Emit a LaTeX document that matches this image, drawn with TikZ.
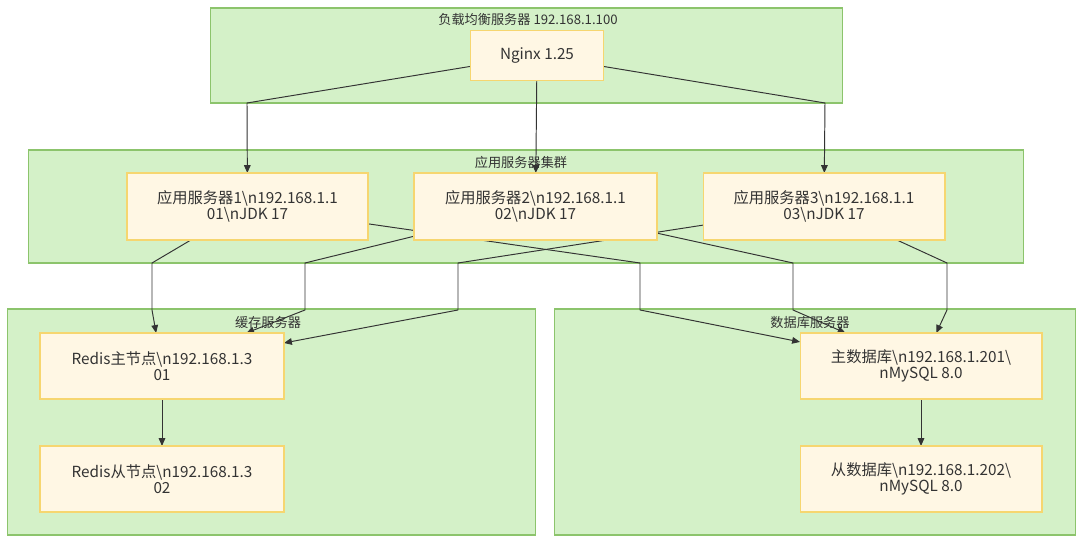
\documentclass[tikz,border=0pt]{standalone}
\usepackage{fontspec}
\setmainfont{Noto Sans CJK SC}
\usepackage{xcolor}
\usepackage{tikz}
\usetikzlibrary{arrows.meta, positioning, calc, backgrounds}

\definecolor{clusterfill}{HTML}{D4F1C8}
\definecolor{clusterline}{HTML}{8CC46C}
\definecolor{nodefill}{HTML}{FFF7E4}
\definecolor{nodeline}{HTML}{F6D670}
\definecolor{inkgray}{HTML}{333333}

\pgfdeclarelayer{edgelayer}
\pgfsetlayers{background,edgelayer,main}

\begin{document}
\begin{tikzpicture}[
  x=0.02cm, y=-0.02cm,
  text=inkgray,
  cluster/.style={
    draw=clusterline, fill=clusterfill, line width=0.6pt,
    inner sep=0pt, outer sep=0pt
  },
  clabel/.style={
    font=\fontsize{7.5}{8}\selectfont, inner sep=1pt
  },
  srvbox/.style={
    draw=nodeline, fill=nodefill, line width=0.6pt,
    align=center, inner sep=2pt, outer sep=0pt,
    font=\fontsize{8.7}{9.2}\selectfont
  },
  link/.style={
    draw=inkgray, line width=0.55pt,
    -{Triangle[length=4.5pt,width=3.8pt]}
  }
]
\useasboundingbox (0,0) rectangle (1080,543);

% ── Clusters ────────────────────────────────────────────────
\begin{scope}[on background layer]
\node[cluster, minimum width=12.66cm, minimum height=1.9cm] (lbCluster) at (526.5,55.5) {};
\node[cluster, minimum width=19.92cm, minimum height=2.26cm] (appCluster) at (526,206.5) {};
\node[cluster, minimum width=10.58cm, minimum height=4.52cm] (cacheCluster) at (271.5,422) {};
\node[cluster, minimum width=10.44cm, minimum height=4.52cm] (dbCluster) at (815,422) {};
\end{scope}

\node[clabel] (lbLabel) at (528,20) {负载均衡服务器 192.168.1.100};
\node[clabel] (appLabel) at (521,162) {应用服务器集群};
\node[clabel] (cacheLabel) at (268,323) {缓存服务器};
\node[clabel] (dbLabel) at (810,323) {数据库服务器};

% ── Servers ─────────────────────────────────────────────────
\node[srvbox, minimum width=2.66cm, minimum height=1.0cm] (nginx) at (537,55.5) {Nginx 1.25};

\node[srvbox, minimum width=4.82cm, minimum height=1.34cm] (app1) at (247.5,206.5)
  {应用服务器1\textbackslash n192.168.1.1\\01\textbackslash nJDK 17};
\node[srvbox, minimum width=4.86cm, minimum height=1.34cm] (app2) at (535.5,206.5)
  {应用服务器2\textbackslash n192.168.1.1\\02\textbackslash nJDK 17};
\node[srvbox, minimum width=4.84cm, minimum height=1.34cm] (app3) at (824,206.5)
  {应用服务器3\textbackslash n192.168.1.1\\03\textbackslash nJDK 17};

\node[srvbox, minimum width=4.88cm, minimum height=1.32cm] (redisM) at (162,366)
  {Redis主节点\textbackslash n192.168.1.3\\01};
\node[srvbox, minimum width=4.88cm, minimum height=1.32cm] (redisS) at (162,479)
  {Redis从节点\textbackslash n192.168.1.3\\02};

\node[srvbox, minimum width=4.84cm, minimum height=1.32cm] (dbM) at (921,366)
  {主数据库\textbackslash n192.168.1.201\textbackslash\\nMySQL 8.0};
\node[srvbox, minimum width=4.84cm, minimum height=1.32cm] (dbS) at (921,479)
  {从数据库\textbackslash n192.168.1.202\textbackslash\\nMySQL 8.0};

% ── Connectors (under the boxes) ────────────────────────────
\begin{pgfonlayer}{edgelayer}
% load balancer to app servers
\draw[link] (nginx) -- (247,103) -- (app1);
\draw[link] (nginx) -- (app2);
\draw[link] (nginx) -- (825,103) -- (app3);

% app servers to cache
\draw[link] (app1) -- (152,263) -- (152,310) -- (redisM);
\draw[link] (app2) -- (305,263) -- (305,310) -- (redisM);
\draw[link] (app3) -- (458,263) -- (458,310) -- (redisM);

% app servers to database
\draw[link] (app1) -- (640,263) -- (640,310) -- (dbM);
\draw[link] (app2) -- (793,263) -- (793,310) -- (dbM);
\draw[link] (app3) -- (947,263) -- (947,310) -- (dbM);

% replication
\draw[link] (redisM) -- (redisS);
\draw[link] (dbM) -- (dbS);
\end{pgfonlayer}

\end{tikzpicture}
\end{document}
